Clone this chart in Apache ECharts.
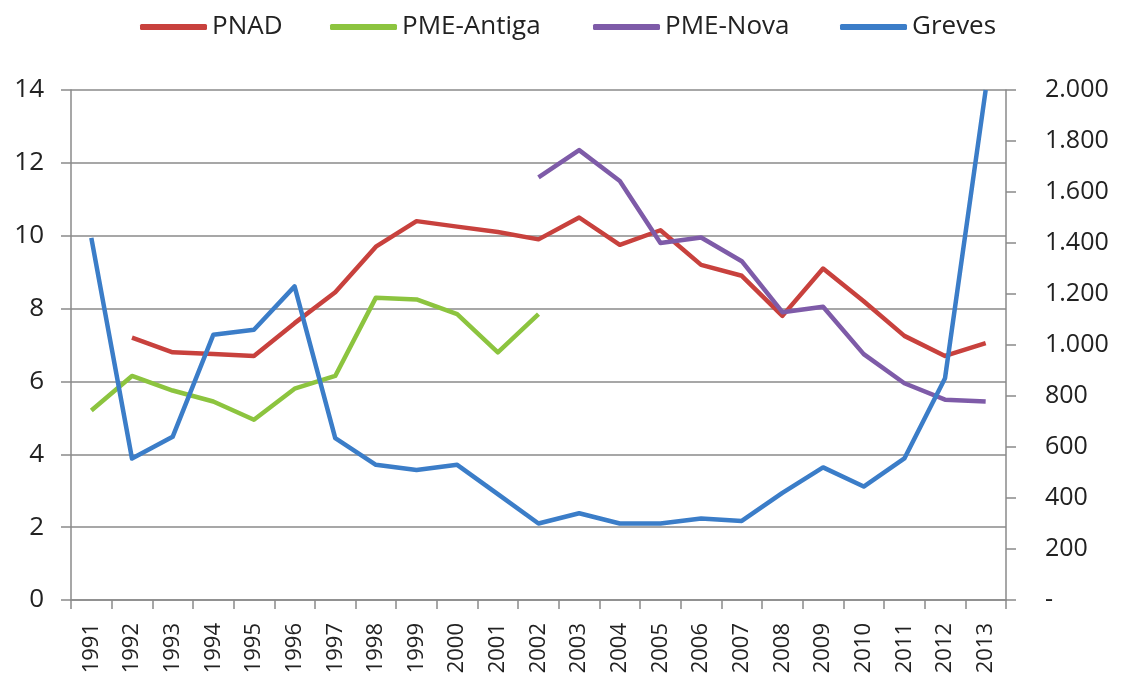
<!DOCTYPE html>
<html>
<head>
<meta charset="utf-8">
<script src="https://cdn.jsdelivr.net/npm/echarts@6/dist/echarts.min.js"></script>
<style>
html,body{margin:0;padding:0;background:#fff;}
#chart{width:1122px;height:685px;}
</style>
</head>
<body>
<div id="chart"></div>
<script>
const years = ['1991','1992','1993','1994','1995','1996','1997','1998','1999','2000','2001','2002','2003','2004','2005','2006','2007','2008','2009','2010','2011','2012','2013'];
const pnad = [null,7.2,6.8,6.75,6.7,7.6,8.45,9.7,10.4,10.25,10.1,9.9,10.5,9.75,10.15,9.2,8.9,7.8,9.1,8.2,7.25,6.7,7.05];
const pmeAntiga = [5.2,6.15,5.75,5.45,4.95,5.8,6.15,8.3,8.25,7.85,6.8,7.85,null,null,null,null,null,null,null,null,null,null,null];
const pmeNova = [null,null,null,null,null,null,null,null,null,null,null,11.6,12.35,11.5,9.8,9.95,9.3,7.9,8.05,6.75,5.95,5.5,5.45];
const greves = [1420,555,640,1040,1060,1230,635,530,510,530,415,300,340,300,300,320,310,420,520,445,555,870,2000];
const seriesNames = ['PNAD','PME-Antiga','PME-Nova','Greves'];
const leftTicks = {min:0, max:14, interval:2};
const rightTicks = {min:0, max:2000, interval:200};

const font = 'Open Sans';
function fmtRight(v){
  if (v === 0) return '-';
  const s = String(v);
  return s.length > 3 ? s.slice(0, s.length-3) + '.' + s.slice(-3) : s;
}
const legendLefts = [140, 330, 593, 840];
const legends = seriesNames.map((n,i)=>({
  top:14, left:legendLefts[i], padding:0,
  icon:'roundRect', itemWidth:67, itemHeight:6,
  textStyle:{fontFamily:font, fontSize:26, color:'#222'},
  data:[n]
}));
const chart = echarts.init(document.getElementById('chart'));
const gridColor = '#8a8a8a';
chart.setOption({
  animation:false,
  backgroundColor:'#ffffff',
  textStyle:{fontFamily:font},
  legend:legends,
  grid:{left:71, right:116, top:90, bottom:85, containLabel:false},
  xAxis:{
    type:'category', data:years, boundaryGap:true,
    axisLine:{lineStyle:{color:gridColor, width:1.5}},
    axisTick:{show:true, length:9, interval:0, lineStyle:{color:gridColor, width:1.5}},
    axisLabel:{rotate:90, interval:0, margin:23, fontFamily:font, fontSize:22, color:'#222'}
  },
  yAxis:[
    {type:'value', min:leftTicks.min, max:leftTicks.max, interval:leftTicks.interval,
     axisLine:{show:true, lineStyle:{color:gridColor, width:1.5}},
     axisTick:{show:true, length:10, lineStyle:{color:gridColor, width:1.5}},
     splitLine:{show:true, lineStyle:{color:gridColor, width:1.5}},
     axisLabel:{margin:27, fontFamily:font, fontSize:26, color:'#222'}},
    {type:'value', min:rightTicks.min, max:rightTicks.max, interval:rightTicks.interval, position:'right',
     axisLine:{show:true, lineStyle:{color:gridColor, width:1.5}},
     axisTick:{show:true, length:10, lineStyle:{color:gridColor, width:1.5}},
     splitLine:{show:false},
     axisLabel:{margin:39, fontFamily:font, fontSize:25, color:'#222', formatter:fmtRight}}
  ],
  series:[
    {name:'PNAD', type:'line', data:pnad, yAxisIndex:0, symbol:'none', itemStyle:{color:'#c8413d'}, lineStyle:{width:4.5, color:'#c8413d', join:'round'}},
    {name:'PME-Antiga', type:'line', data:pmeAntiga, yAxisIndex:0, symbol:'none', itemStyle:{color:'#8cc43f'}, lineStyle:{width:4.5, color:'#8cc43f', join:'round'}},
    {name:'PME-Nova', type:'line', data:pmeNova, yAxisIndex:0, symbol:'none', itemStyle:{color:'#7e5ba8'}, lineStyle:{width:4.5, color:'#7e5ba8', join:'round'}},
    {name:'Greves', type:'line', data:greves, yAxisIndex:1, symbol:'none', itemStyle:{color:'#3b7dc8'}, lineStyle:{width:4.5, color:'#3b7dc8', join:'round'}}
  ]
});
</script>
</body>
</html>
